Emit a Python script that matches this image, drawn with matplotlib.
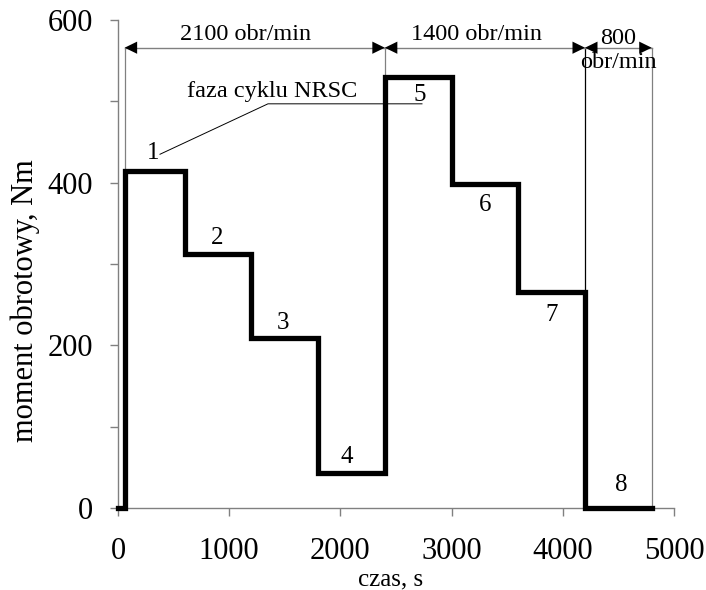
import numpy as np
import matplotlib
matplotlib.use("Agg")
import matplotlib.pyplot as plt

plt.rcParams['font.family'] = ['Liberation Serif', 'DejaVu Serif']

# fazy cyklu NRSC: poczatek fazy [s] i moment [Nm]
phase_start = [60, 600, 1200, 1800, 2400, 3000, 3600, 4200]
phase_end = 4800
torque = [415, 312, 209, 43, 530, 398, 265, 0]
phase_no = ['1', '2', '3', '4', '5', '6', '7', '8']
# polozenie numerow faz (czas, moment)
num_x = [315, 890, 1484, 2059, 2716, 3300, 3903, 4523]
num_y = [436, 332, 227, 63, 508, 372, 237, 28]

# predkosci obrotowe
speed_edges = [60, 2400, 4200, 4800]
speed_labels = ['2100 obr/min', '1400 obr/min', '800\nobr/min']
arrow_y = 566

# przebieg schodkowy
t = np.array([0] + phase_start + [phase_end])
m = np.array([0] + torque + [torque[-1]])

fig = plt.figure(figsize=(7.06, 5.90), dpi=100)
ax = fig.add_axes([0.1671, 0.139, 0.7875, 0.827])

ax.plot(t, m, drawstyle='steps-post', color='black', lw=3.8,
        solid_joinstyle='miter', zorder=3, clip_on=False)

# linie pionowe od strzalek do przebiegu
for i, e in enumerate(speed_edges):
    lvl = m[np.searchsorted(t, e)]
    if i > 0:
        lvl = max(lvl, m[np.searchsorted(t, e) - 1])
    col = 'black' if e == 4200 else 'gray'
    ax.plot([e, e], [lvl, arrow_y], color=col, lw=0.9, zorder=2)

# strzalki wymiarowe
for a, b, lab in zip(speed_edges[:-1], speed_edges[1:], speed_labels):
    ax.plot([a, b], [arrow_y, arrow_y], color='gray', lw=1.0, zorder=2)
    ax.annotate('', xy=(b, arrow_y), xytext=(a, arrow_y),
                arrowprops=dict(arrowstyle='<|-|>,head_length=0.45,head_width=0.22',
                                fc='black', ec='none', lw=0,
                                shrinkA=0, shrinkB=0, mutation_scale=20))
    mid = (a + b) / 2
    if '\n' in lab:
        ax.text(mid, arrow_y - 3, lab, ha='center', va='center', fontsize=17.5,
                linespacing=1.2)
    else:
        ax.text(mid - 80, arrow_y + 10, lab, ha='center', va='baseline',
                fontsize=17.5)

# numery faz
for x, y, s in zip(num_x, num_y, phase_no):
    ax.text(x, y, s, ha='center', va='center', fontsize=18)

# opis "faza cyklu NRSC"
ax.text(1385, 505, 'faza cyklu NRSC', ha='center', va='baseline', fontsize=17.5)
ax.plot([378, 1349, 2734], [435, 497, 497], color='black', lw=0.7, zorder=2)

ax.set_xlim(0, 5000)
ax.set_ylim(0, 600)
ax.set_xticks(np.arange(0, 5001, 1000))
ax.set_yticks(np.arange(0, 601, 200))
ax.set_yticks(np.arange(100, 600, 200), minor=True)

for s in ['top', 'right']:
    ax.spines[s].set_visible(False)
for s in ['left', 'bottom']:
    ax.spines[s].set_color('gray')
    ax.spines[s].set_linewidth(1.0)

ax.tick_params(axis='both', which='both', direction='out', color='gray',
               length=6, width=1.0, labelsize=22)
ax.tick_params(axis='y', pad=12)
ax.tick_params(axis='x', pad=15)

ax.set_xlabel('czas, s', fontsize=18)
ax.set_ylabel('moment obrotowy, Nm', fontsize=22)
ax.xaxis.set_label_coords(0.491, -0.123)
ax.yaxis.set_label_coords(-0.14, 0.424)

fig.savefig('out.png', dpi=100)
